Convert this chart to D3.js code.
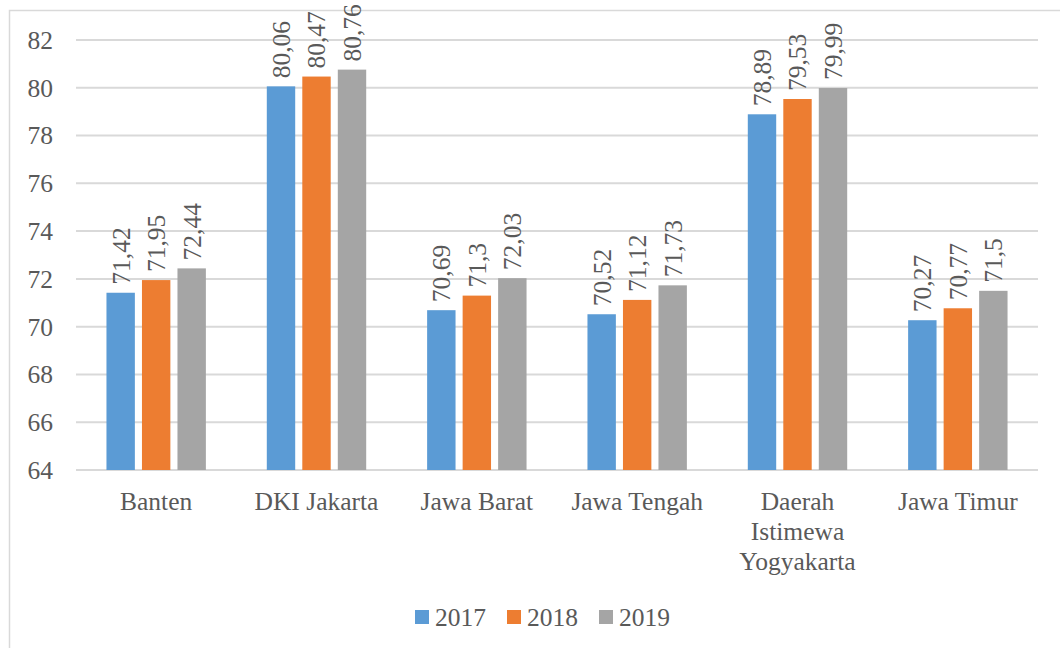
<!DOCTYPE html>
<html>
<head>
<meta charset="utf-8">
<script src="https://cdn.jsdelivr.net/npm/d3@7/dist/d3.min.js"></script>
<style>
  html, body { margin: 0; padding: 0; background: #fff; }
  svg { display: block; }
  text { font-family: "Liberation Serif", "Times New Roman", serif; fill: #595959; }
</style>
</head>
<body>
<svg id="chart" width="1060" height="648"></svg>
<script>
const categories = ["Banten", "DKI Jakarta", "Jawa Barat", "Jawa Tengah", "Daerah Istimewa Yogyakarta", "Jawa Timur"];
const categoryLines = [["Banten"], ["DKI Jakarta"], ["Jawa Barat"], ["Jawa Tengah"], ["Daerah", "Istimewa", "Yogyakarta"], ["Jawa Timur"]];
const seriesNames = ["2017", "2018", "2019"];
const values2017 = [71.42, 80.06, 70.69, 70.52, 78.89, 70.27];
const values2018 = [71.95, 80.47, 71.3, 71.12, 79.53, 70.77];
const values2019 = [72.44, 80.76, 72.03, 71.73, 79.99, 71.5];
const yTicks = [64, 66, 68, 70, 72, 74, 76, 78, 80, 82];
const colors = ["#5b9bd5", "#ed7d31", "#a5a5a5"];

const seriesValues = [values2017, values2018, values2019];
const svg = d3.select("#chart");

// outer frame
svg.append("rect").attr("x", 9.5).attr("y", 10.5).attr("width", 1100).attr("height", 700)
  .attr("fill", "none").attr("stroke", "#d9d9d9").attr("stroke-width", 1.5);

const plotLeft = 76, plotRight = 1038, plotTop = 40, plotBottom = 470;
const y = d3.scaleLinear().domain([64, 82]).range([plotBottom, plotTop]);
const x0 = d3.scaleBand().domain(categories).range([plotLeft, plotRight]).padding(0);
const bw = x0.bandwidth();
const x1 = d3.scaleBand().domain(seriesNames).range([bw * 0.19, bw * 0.81]).paddingInner(0.2).paddingOuter(0);

// gridlines
svg.append("g").selectAll("line").data(yTicks).join("line")
  .attr("x1", plotLeft).attr("x2", plotRight)
  .attr("y1", d => y(d)).attr("y2", d => y(d))
  .attr("stroke", "#d9d9d9").attr("stroke-width", 2);

// y tick labels
svg.append("g").selectAll("text").data(yTicks).join("text")
  .attr("x", 53).attr("y", d => y(d)).attr("dy", "0.35em")
  .attr("text-anchor", "end").style("font-size", "25.5px")
  .text(d => d);

// bars
const groups = svg.append("g").selectAll("g").data(categories).join("g")
  .attr("transform", c => `translate(${x0(c)},0)`);

seriesNames.forEach((s, si) => {
  groups.append("rect")
    .attr("x", x1(s))
    .attr("y", (c, i) => y(seriesValues[si][i]))
    .attr("width", x1.bandwidth())
    .attr("height", (c, i) => y(64) - y(seriesValues[si][i]))
    .attr("fill", colors[si]);
  groups.append("text")
    .attr("transform", (c, i) => `translate(${x1(s) + x1.bandwidth() / 2},${y(seriesValues[si][i]) - 8}) rotate(-90)`)
    .attr("dy", "0.35em")
    .attr("text-anchor", "start")
    .style("font-size", "25.5px")
    .text((c, i) => String(seriesValues[si][i]).replace(".", ","));
});

// category labels
groups.each(function (c, i) {
  const t = d3.select(this).append("text")
    .attr("x", bw / 2).attr("y", 510)
    .attr("text-anchor", "middle").style("font-size", "25.5px");
  categoryLines[i].forEach((ln, li) => {
    t.append("tspan").attr("x", bw / 2).attr("y", 510 + li * 30).text(ln);
  });
});

// legend
const legendX = [415, 507, 599];
const legend = svg.append("g").selectAll("g").data(seriesNames).join("g")
  .attr("transform", (d, i) => `translate(${legendX[i]},610)`);
legend.append("rect").attr("width", 14).attr("height", 14).attr("fill", (d, i) => colors[i]);
legend.append("text").attr("x", 20).attr("y", 16).style("font-size", "25.5px").text(d => d);
</script>
</body>
</html>
